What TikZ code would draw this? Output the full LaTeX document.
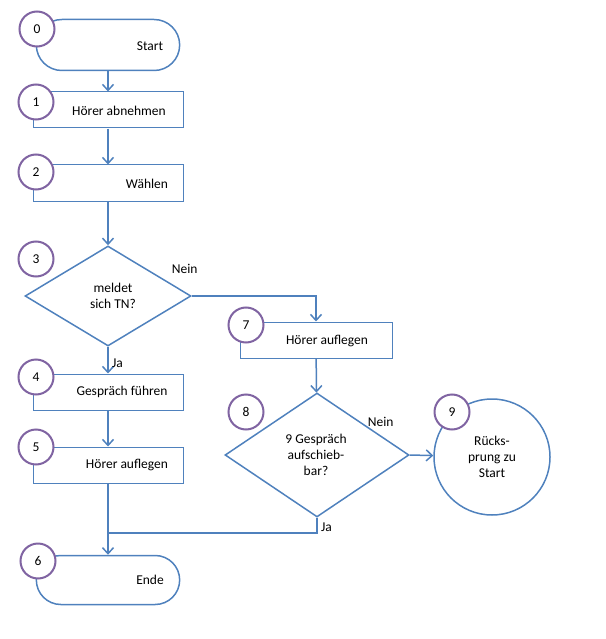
\documentclass[tikz,border=0pt]{standalone}
\usepackage{fontspec}
\setmainfont{Carlito}
\usetikzlibrary{shapes.geometric,shapes.misc,arrows.meta}
\definecolor{lineblue}{RGB}{79,129,189}
\definecolor{numpurple}{RGB}{128,100,162}
\begin{document}
\begin{tikzpicture}[x=1pt,y=-1pt,font=\fontsize{13.5}{16}\selectfont,
    flow/.style={draw=lineblue, line width=1.5pt, -{Straight Barb[length=6pt,width=11pt]}},
    term/.style={draw=lineblue, line width=1.5pt, rounded rectangle, minimum width=150pt, minimum height=51pt},
    proc/.style={draw=lineblue, line width=1pt, chamfered rectangle, chamfered rectangle corners={north east,south west},
        chamfered rectangle xsep=8pt, chamfered rectangle ysep=8pt, minimum width=150pt, minimum height=36pt, inner sep=0pt},
    dec/.style={draw=lineblue, line width=1.5pt, diamond, aspect=1.66, inner sep=0pt},
    num/.style={draw=numpurple, line width=2pt, circle, fill=white, minimum size=35pt, inner sep=0pt}]
    \useasboundingbox (0,0) rectangle (605,639);

    \node[term] (start) at (108,45) {};
    \node at (150,46) {Start};
    \node[proc] (abn) at (108,110) {};
    \node at (119,111) {Hörer abnehmen};
    \node[proc] (waehl) at (108,183) {};
    \node at (147,184) {Wählen};
    \node[dec, minimum width=166pt, minimum height=100pt] (meldet) at (108,296) {};
    \node[align=center] at (113,296) {meldet\\sich TN?};
    \node[proc] (fuehr) at (108,392) {};
    \node at (122,392) {Gespräch führen};
    \node[proc] (aufl) at (108,465) {};
    \node at (127,465) {Hörer auflegen};
    \node[term, minimum height=49pt] (ende) at (108,580) {};
    \node at (150,580) {Ende};

    %------------------------------------------------

    \node[proc, minimum width=152pt] (auflR) at (316,340) {};
    \node at (327,341) {Hörer auflegen};
    \node[dec, minimum width=184pt, minimum height=124pt] (aufsch) at (317,455) {};
    \node[align=center] at (316,455) {9 Gespräch\\aufschieb-\\bar?};
    \node[draw=lineblue, line width=1.5pt, circle, minimum size=116pt, align=center] (rueck) at (492,457)
    {Rücks-\\prung zu\\Start};
    \coordinate (join) at (108,533);

    %------------------------------------------------

    \foreach \n/\x/\y in {0/37/29, 1/36/102, 2/36/172, 3/36/259, 4/36/377,
        5/36/447, 6/38/561, 7/246/325, 8/246/412, 9/452/412}
        \node[num] (n\n) at (\x,\y) {\n};

    \draw[flow] (start) -- (abn);
    \draw[flow] (abn) -- (waehl);
    \draw[flow] (waehl) -- (meldet);
    \draw[flow] (meldet) -- node[right, pos=0.6, text=black] {Ja} (fuehr);
    \draw[flow] (fuehr) -- (aufl);
    \draw[flow] (aufl) -- (ende);
    \draw[flow] (meldet.east) -| node[pos=0.0, above right, xshift=-24pt, yshift=18pt, text=black] {Nein} (auflR);
    \draw[flow] (auflR) -- (aufsch);
    \draw[flow] (aufsch.east) -- node[pos=0.0, above right, xshift=-46pt, yshift=24pt, text=black] {Nein} (rueck);
    \draw[lineblue, line width=1.5pt] (aufsch.south) |- node[pos=0.3, right, text=black] {Ja} (join);
\end{tikzpicture}
\end{document}
